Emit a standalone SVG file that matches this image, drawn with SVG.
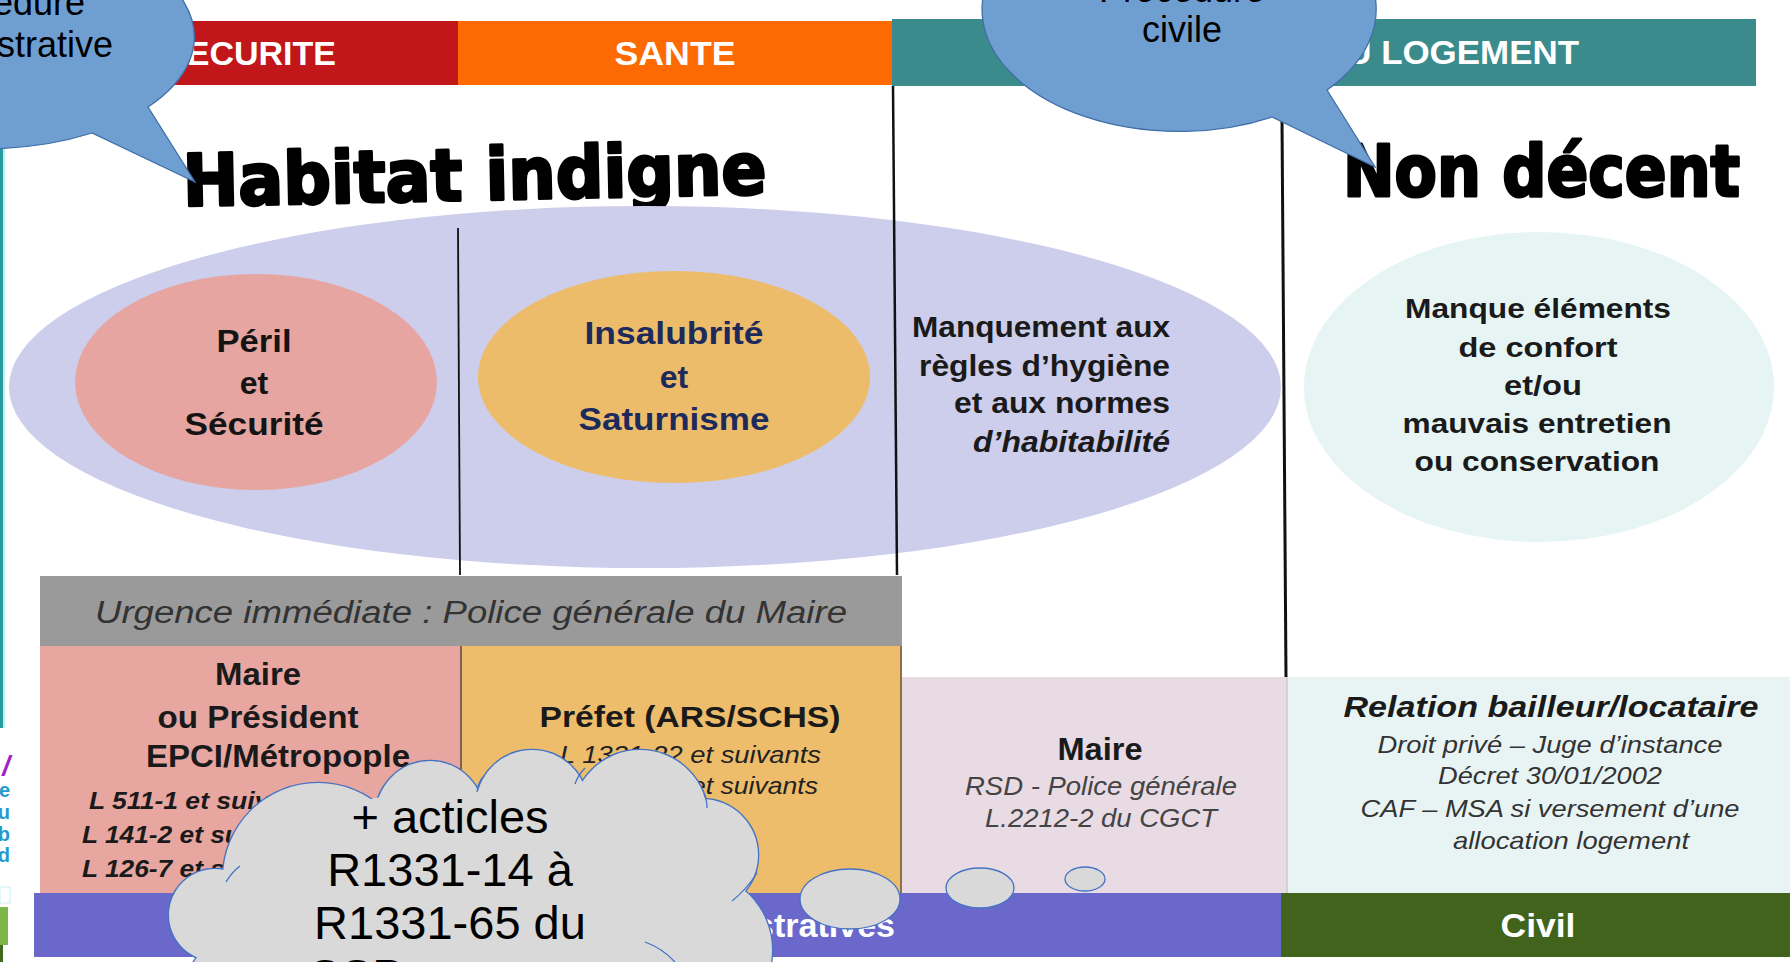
<svg xmlns="http://www.w3.org/2000/svg" width="1790" height="962" viewBox="0 0 1790 962">
<style>
text{font-family:"Liberation Sans",Arial,sans-serif}
.hdr{font-size:33px;font-weight:bold;fill:#fff;text-anchor:middle}
.big{font-family:"DejaVu Sans",sans-serif;font-size:72px;font-weight:bold;fill:#000;stroke:#000;stroke-width:3;stroke-linejoin:round}
.eb{font-size:32px;font-weight:bold;fill:#141414;text-anchor:middle}
.nv{fill:#1d2a5c}
.mq{font-size:29px;font-weight:bold;fill:#1a1a1a;text-anchor:end}
.mc{font-size:28px;font-weight:bold;fill:#1a1a1a;text-anchor:middle}
.lb{font-size:31px;font-weight:bold;fill:#1a1a1a;text-anchor:middle}
.li{font-size:24px;font-style:italic;fill:#333}
.lbi{font-size:23px;font-style:italic;font-weight:bold;fill:#1a1a1a}
.wb{font-size:34px;font-weight:bold;fill:#fff}
.cl{font-size:47px;fill:#000;text-anchor:middle}
.co{font-size:36px;fill:#000;text-anchor:middle}
.bub{fill:#6f9fd1;stroke:#3f6fa8;stroke-width:1.3}
.cld{fill:#d9d9d9;stroke:#4472c4;stroke-width:2.6}
.cldf{fill:#d9d9d9}
.arc{fill:none;stroke:#4472c4;stroke-width:1.3}
.dv{stroke:#111;fill:none}
</style>
<rect width="1790" height="962" fill="#fff"/>

<g id="left-strip">
<rect x="0" y="140" width="3" height="588" fill="#2a9ca0"/>
<rect x="3" y="140" width="2" height="588" fill="#bfeef0"/>
<text x="10" y="775" style="font-size:28px;font-weight:bold;font-style:italic;fill:#a41fc8;text-anchor:end">/</text>
<text x="10" y="797" style="font-size:20px;font-weight:bold;fill:#1f9bd0;text-anchor:end">e</text>
<text x="10" y="819" style="font-size:20px;font-weight:bold;fill:#1f9bd0;text-anchor:end">lu</text>
<text x="10" y="841" style="font-size:20px;font-weight:bold;fill:#1f9bd0;text-anchor:end">ab</text>
<text x="10" y="862" style="font-size:20px;font-weight:bold;fill:#1f9bd0;text-anchor:end">d</text>
<rect x="0" y="887" width="10" height="16" fill="none" stroke="#c8eef2" stroke-width="1"/>
<rect x="0" y="907" width="8" height="38" fill="#7ab648"/>
<rect x="0" y="945" width="3" height="17" fill="#3f6a1e"/>
</g>

<g id="header">
<rect x="40" y="21" width="418" height="64" fill="#c1171b"/>
<rect x="458" y="21" width="434" height="64" fill="#fd6a02"/>
<rect x="892" y="19" width="864" height="67" fill="#3b8b8c"/>
<text class="hdr" x="250" y="65" textLength="172" lengthAdjust="spacingAndGlyphs">SECURITE</text>
<text class="hdr" x="675" y="65" textLength="121" lengthAdjust="spacingAndGlyphs">SANTE</text>
<text class="hdr" x="1321" y="64" style="text-anchor:start" textLength="258" lengthAdjust="spacingAndGlyphs">DU LOGEMENT</text>
</g>

<g id="titles">
<text class="big" x="183" y="200" textLength="584" lengthAdjust="spacingAndGlyphs" transform="rotate(-1.2 475 197)">Habitat indigne</text>
<text class="big" x="1343" y="196" textLength="397" lengthAdjust="spacingAndGlyphs">Non décent</text>
</g>

<g id="habitat-ellipse">
<ellipse cx="645" cy="387" rx="636" ry="181" fill="#cdcdec"/>
</g>

<g id="dividers">
<line class="dv" x1="458" y1="228" x2="460" y2="575" stroke-width="1.8" stroke="#333"/>
<line class="dv" x1="893" y1="86" x2="897" y2="575" stroke-width="2.5"/>
<line class="dv" x1="1282" y1="120" x2="1286" y2="677" stroke-width="3"/>
</g>

<g id="peril">
<ellipse cx="256" cy="382" rx="181" ry="108" fill="#e7a5a2"/>
<text class="eb" x="254" y="352" textLength="75" lengthAdjust="spacingAndGlyphs">Péril</text>
<text class="eb" x="254" y="394">et</text>
<text class="eb" x="254" y="435" textLength="139" lengthAdjust="spacingAndGlyphs">Sécurité</text>
</g>

<g id="insalubrite">
<ellipse cx="674" cy="377" rx="196" ry="106" fill="#ecbc6a"/>
<text class="eb nv" x="674" y="344" textLength="179" lengthAdjust="spacingAndGlyphs">Insalubrité</text>
<text class="eb nv" x="674" y="388">et</text>
<text class="eb nv" x="674" y="430" textLength="191" lengthAdjust="spacingAndGlyphs">Saturnisme</text>
</g>

<g id="manquement">
<text class="mq" x="1170" y="337" textLength="258" lengthAdjust="spacingAndGlyphs">Manquement aux</text>
<text class="mq" x="1170" y="376" textLength="251" lengthAdjust="spacingAndGlyphs">règles d’hygiène</text>
<text class="mq" x="1170" y="413" textLength="216" lengthAdjust="spacingAndGlyphs">et aux normes</text>
<text class="mq" x="1170" y="452" style="font-style:italic" textLength="197" lengthAdjust="spacingAndGlyphs">d’habitabilité</text>
</g>

<g id="non-decent">
<ellipse cx="1539" cy="387" rx="235" ry="155" fill="#e6f4f4"/>
<text class="mc" x="1538" y="318" textLength="266" lengthAdjust="spacingAndGlyphs">Manque éléments</text>
<text class="mc" x="1538" y="357" textLength="159" lengthAdjust="spacingAndGlyphs">de confort</text>
<text class="mc" x="1543" y="395" textLength="78" lengthAdjust="spacingAndGlyphs">et/ou</text>
<text class="mc" x="1537" y="433" textLength="269" lengthAdjust="spacingAndGlyphs">mauvais entretien</text>
<text class="mc" x="1537" y="471" textLength="245" lengthAdjust="spacingAndGlyphs">ou conservation</text>
</g>

<g id="urgence">
<rect x="40" y="576" width="862" height="70" fill="#9a9a9a"/>
<text x="471" y="623" style="font-size:31px;font-style:italic;fill:#333;text-anchor:middle" textLength="752" lengthAdjust="spacingAndGlyphs">Urgence immédiate : Police générale du Maire</text>
</g>

<g id="maire-box">
<rect x="40" y="646" width="421" height="247" fill="#e8a6a1"/>
<text class="lb" x="258" y="685" textLength="86" lengthAdjust="spacingAndGlyphs">Maire</text>
<text class="lb" x="258" y="728" textLength="201" lengthAdjust="spacingAndGlyphs">ou Président</text>
<text class="lb" x="278" y="767" textLength="264" lengthAdjust="spacingAndGlyphs">EPCI/Métropople</text>
<text class="lbi" x="89" y="809" textLength="235" lengthAdjust="spacingAndGlyphs">L 511-1 et suivants</text>
<text class="lbi" x="82" y="843" textLength="235" lengthAdjust="spacingAndGlyphs">L 141-2 et suivants</text>
<text class="lbi" x="82" y="877" textLength="235" lengthAdjust="spacingAndGlyphs">L 126-7 et suivants</text>
</g>

<g id="prefet-box">
<rect x="461" y="646" width="441" height="247" fill="#edbd6b"/>
<line x1="461" y1="646" x2="461" y2="893" stroke="#5a4a40" stroke-width="1.5"/>
<line x1="901" y1="646" x2="901" y2="893" stroke="#6a5a40" stroke-width="1.5"/>
<text class="lb" x="690" y="727" style="font-size:30px" textLength="301" lengthAdjust="spacingAndGlyphs">Préfet (ARS/SCHS)</text>
<text class="li" x="560" y="763" style="fill:#222" textLength="261" lengthAdjust="spacingAndGlyphs">L 1331-22 et suivants</text>
<text class="li" x="691" y="794" style="fill:#222" textLength="127" lengthAdjust="spacingAndGlyphs">et suivants</text>
</g>

<g id="rsd-box">
<rect x="902" y="677" width="385" height="216" fill="#e8dbe4"/>
<text class="lb" x="1100" y="760" textLength="85" lengthAdjust="spacingAndGlyphs">Maire</text>
<text class="li" x="1101" y="795" style="font-size:25px;fill:#444;text-anchor:middle" textLength="272" lengthAdjust="spacingAndGlyphs">RSD - Police générale</text>
<text class="li" x="1101" y="827" style="font-size:25px;fill:#444;text-anchor:middle" textLength="232" lengthAdjust="spacingAndGlyphs">L.2212-2 du CGCT</text>
</g>

<g id="bailleur-box">
<rect x="1287" y="677" width="503" height="216" fill="#e8f4f4"/>
<line x1="1287" y1="677" x2="1287" y2="893" stroke="#bbb" stroke-width="1"/>
<text x="1551" y="717" style="font-size:30px;font-weight:bold;font-style:italic;fill:#1a1a1a;text-anchor:middle" textLength="415" lengthAdjust="spacingAndGlyphs">Relation bailleur/locataire</text>
<text class="li" x="1550" y="753" style="text-anchor:middle" textLength="345" lengthAdjust="spacingAndGlyphs">Droit privé – Juge d’instance</text>
<text class="li" x="1550" y="784" style="text-anchor:middle" textLength="224" lengthAdjust="spacingAndGlyphs">Décret 30/01/2002</text>
<text class="li" x="1550" y="817" style="text-anchor:middle" textLength="379" lengthAdjust="spacingAndGlyphs">CAF – MSA si versement d’une</text>
<text class="li" x="1571" y="849" style="text-anchor:middle" textLength="236" lengthAdjust="spacingAndGlyphs">allocation logement</text>
</g>

<g id="admin-bar">
<rect x="34" y="893" width="1247" height="64" fill="#6a69cb"/>
<text class="wb" x="895" y="937" style="text-anchor:end">administratives</text>
</g>

<g id="civil-bar">
<rect x="1281" y="893" width="509" height="64" fill="#42631c"/>
<text class="wb" x="1538" y="937" style="text-anchor:middle" textLength="75" lengthAdjust="spacingAndGlyphs">Civil</text>
</g>

<g id="cloud-callout">
<g>
<circle class="cld" cx="215" cy="915" r="46"/>
<circle class="cld" cx="318" cy="878" r="95"/>
<ellipse class="cld" cx="430" cy="818" rx="55" ry="57"/>
<circle class="cld" cx="532" cy="806" r="56"/>
<ellipse class="cld" cx="640" cy="818" rx="68" ry="68"/>
<circle class="cld" cx="702" cy="855" r="56"/>
<circle class="cld" cx="694" cy="950" r="78"/>
<ellipse class="cld" cx="300" cy="975" rx="110" ry="50"/>
<ellipse class="cld" cx="540" cy="985" rx="140" ry="50"/>
</g>
<g>
<circle class="cldf" cx="215" cy="915" r="46"/>
<circle class="cldf" cx="318" cy="878" r="95"/>
<ellipse class="cldf" cx="430" cy="818" rx="55" ry="57"/>
<circle class="cldf" cx="532" cy="806" r="56"/>
<ellipse class="cldf" cx="640" cy="818" rx="68" ry="68"/>
<circle class="cldf" cx="702" cy="855" r="56"/>
<circle class="cldf" cx="694" cy="950" r="78"/>
<ellipse class="cldf" cx="300" cy="975" rx="110" ry="50"/>
<ellipse class="cldf" cx="540" cy="985" rx="140" ry="50"/>
<ellipse class="cldf" cx="470" cy="900" rx="250" ry="110"/>
</g>
<path class="arc" d="M477,792 Q478,782 484,776"/>
<path class="arc" d="M575,784 Q578,775 585,768"/>
<path class="arc" d="M707,808 Q707,800 704,794"/>
<path class="arc" d="M732,901 Q746,890 757,873"/>
<path class="arc" d="M645,942 Q662,948 675,962"/>
<path class="arc" d="M226,882 Q232,872 240,866"/>
<text class="cl" x="450" y="833">+ acticles</text>
<text class="cl" x="450" y="886">R1331-14 à</text>
<text class="cl" x="450" y="939">R1331-65 du</text>
<text class="cl" x="307" y="992" style="text-anchor:start">CSP</text>
<ellipse cx="850" cy="899" rx="50" ry="30" fill="#d9d9d9" stroke="#4472c4" stroke-width="1.3"/>
<ellipse cx="980" cy="888" rx="34" ry="20" fill="#d9d9d9" stroke="#4472c4" stroke-width="1.3"/>
<ellipse cx="1085" cy="879" rx="20" ry="12" fill="#d9d9d9" stroke="#4472c4" stroke-width="1.3"/>
</g>

<g id="callout-admin">
<path class="bub" d="M148,107 L195,182 L92,133 A210,112 0 1,1 148,107 Z"/>
<text class="co" x="2" y="15">Procédure</text>
<text class="co" x="2" y="57">administrative</text>
</g>

<g id="callout-civile">
<path class="bub" d="M1327,90 L1375,167 L1272,117 A197,122 0 1,1 1327,90 Z"/>
<text class="co" x="1182" y="2">Procédure</text>
<text class="co" x="1182" y="42">civile</text>
</g>
</svg>
